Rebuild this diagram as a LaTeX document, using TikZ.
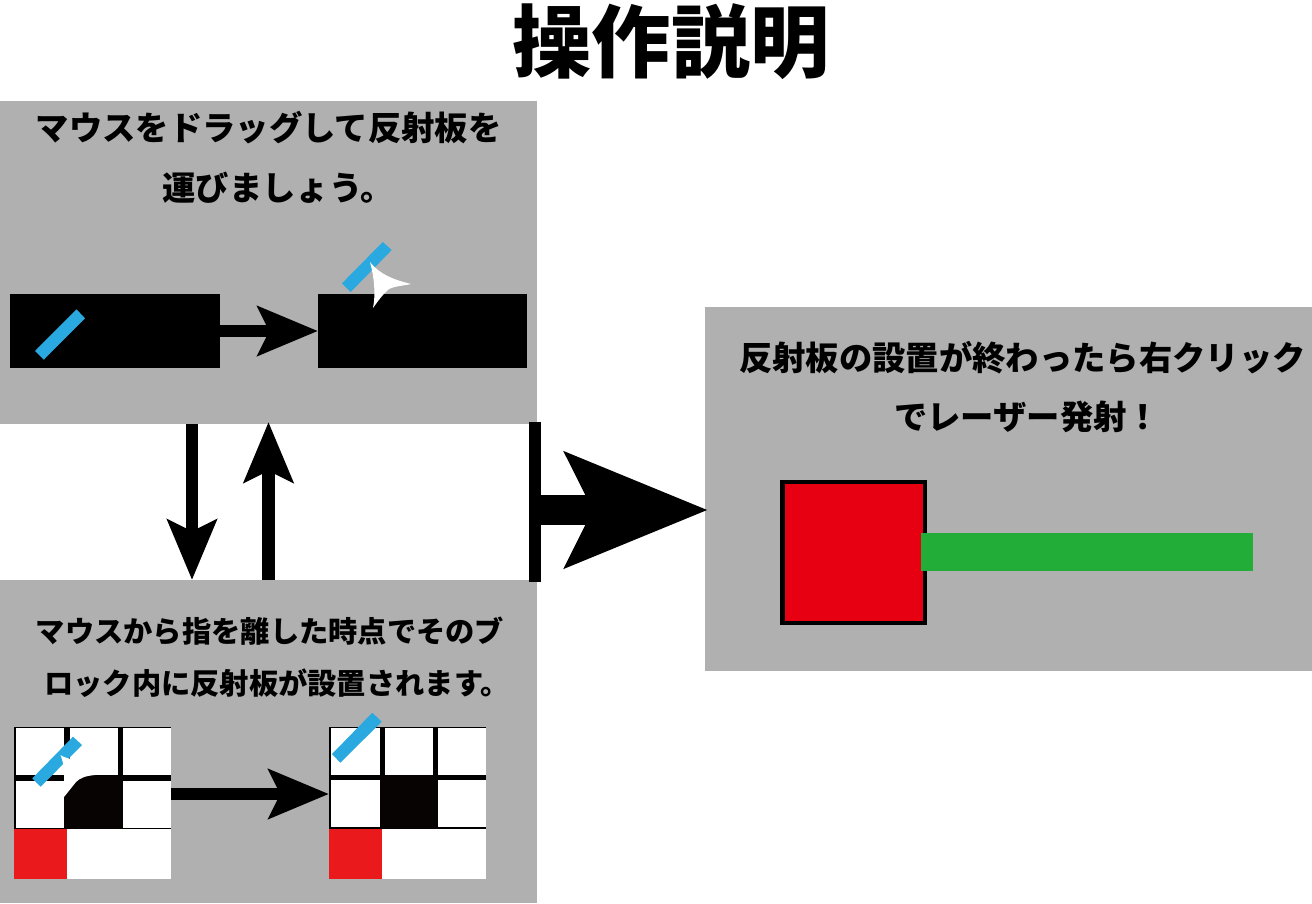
\documentclass[tikz,border=0pt]{standalone}
\usepackage{fontspec}
\usetikzlibrary{arrows.meta}
\newfontfamily\cjkblack{Noto Sans CJK JP Black}
\definecolor{panelgray}{HTML}{B0B0B0}
\definecolor{barblue}{HTML}{29A9E0}
\definecolor{boxred}{HTML}{E60012}
\definecolor{gridred}{HTML}{EA1A1C}
\definecolor{lasergreen}{HTML}{22AC38}
\definecolor{nearblack}{HTML}{060302}
\tikzset{
  sz/.style 2 args={minimum width=#1*0.75pt,minimum height=#2*0.75pt},
  rectbox/.style={anchor=north west,inner sep=0pt,outer sep=0pt,draw=none},
  panel/.style={rectbox,fill=panelgray},
  blackbox/.style={rectbox,fill=black},
  cellbox/.style={rectbox,fill=white,sz={48}{47}},
  label/.style={inner sep=0pt,outer sep=0pt,text=black},
  capline/.style={label,font=\cjkblack\fontsize{25pt}{25pt}\selectfont},
  capsmall/.style={label,font=\cjkblack\fontsize{21.95pt}{21.95pt}\selectfont},
  bar/.style={fill=barblue},
  ptr/.style={fill=white},
  arrowsmall/.style={line width=9.4pt,-{Stealth[length=45pt,width=36.5pt,inset=8.5pt]}},
  arrowlarge/.style={line width=22pt,-{Stealth[length=106pt,width=84pt,inset=19.5pt]}},
}
\begin{document}
\begin{tikzpicture}[x=0.75pt,y=-0.75pt]
\useasboundingbox (0,0) rectangle (1312,903);
% title
\node[label,font=\cjkblack\fontsize{59.4pt}{59.4pt}\selectfont] (title) at (671,42) {操作説明};
% panels
\node[panel,sz={537}{323}] (p1) at (0,101) {};
\node[panel,sz={537}{323}] (p2) at (0,580) {};
\node[panel,sz={607}{364}] (p3) at (705,307) {};
% panel 1
\node[capline] (t1a) at (268.5,128) {マウスをドラッグして反射板を};
\node[capline] (t1b) at (278,188) {運びましょう。};
\node[blackbox,sz={210}{74}] (b1) at (10,294) {};
\node[blackbox,sz={209}{74}] (b2) at (318,294) {};
\draw[arrowsmall] (b1.east) -- (b2.west);
\fill[bar] (76.5,309.3) -- (85,318.3) -- (43.8,359.7) -- (35,351) -- cycle;
\fill[bar] (382.8,242) -- (391.7,250) -- (350.7,292) -- (342,283.3) -- cycle;
\fill[ptr] (370,262) .. controls (380,275) and (395,280) .. (411,284) .. controls (402,286) and (395,286) .. (389,289) .. controls (383,294) and (378,301) .. (373,308) .. controls (376,293) and (374,277) .. (370,262) -- cycle;
% panel 2
\node[capsmall] (t2a) at (270,631.5) {マウスから指を離した時点でそのブ};
\node[capsmall] (t2b) at (277,683) {ロック内に反射板が設置されます。};
% left grid
\node[blackbox,sz={157}{102}] (g1) at (14,727) {};
\node[cellbox] (g1a) at (16,728) {};
\node[cellbox] (g1b) at (70,728) {};
\node[cellbox] (g1c) at (123,728) {};
\node[cellbox] (g1d) at (16,781) {};
\node[rectbox,fill=nearblack,sz={59}{53}] (g1e) at (64,776) {};
\node[cellbox] (g1f) at (123,781) {};
\node[rectbox,fill=white,sz={157}{50}] (g1g) at (14,829) {};
\node[rectbox,fill=gridred,sz={53}{50}] (g1h) at (14,829) {};
\fill[bar] (73,736.7) -- (82,745) -- (40.7,786.7) -- (32.3,778.3) -- cycle;
\fill[ptr] (60.5,755) .. controls (63,757) and (67,758) .. (71,759) -- (71,775) -- (95,775) .. controls (85,776) and (80,778) .. (76,782) -- (64,797) -- (64,772) .. controls (64,766) and (62.5,760) .. (60.5,755) -- cycle;
% right grid
\node[blackbox,sz={157}{102}] (g2) at (329,727) {};
\node[cellbox,sz={49}{47}] (g2a) at (331,728) {};
\node[cellbox] (g2b) at (385,728) {};
\node[cellbox] (g2c) at (438,728) {};
\node[cellbox,sz={49}{47}] (g2d) at (331,780) {};
\node[rectbox,fill=nearblack,sz={58}{54}] (g2e) at (380,775) {};
\node[cellbox] (g2f) at (438,780) {};
\node[rectbox,fill=white,sz={157}{50}] (g2g) at (329,829) {};
\node[rectbox,fill=gridred,sz={53}{50}] (g2h) at (329,829) {};
\fill[bar] (372.3,712.7) -- (381.7,721.7) -- (340.3,762.7) -- (332,754) -- cycle;
\draw[arrowsmall] (g1.east |- 0,794) -- (g2.west |- 0,794);
% vertical connectors
\coordinate (downx) at (192,0);
\coordinate (upx) at (268.5,0);
\draw[arrowsmall] (downx |- p1.south) -- (downx |- p2.north);
\draw[arrowsmall,shorten >=-1.5pt] (upx |- p2.north) -- (upx |- p1.south);
% big connector
\node[rectbox,fill=black,sz={12.5}{160}] (stem) at (528.5,422) {};
\coordinate (bigy) at (0,510);
\draw[arrowlarge,shorten >=-2.5pt] (stem.east |- bigy) -- (p3.west |- bigy);
% panel 3
\node[capline] (t3a) at (1022.5,358) {反射板の設置が終わったら右クリック};
\node[capline] (t3b) at (1027,416.5) {でレーザー発射！};
\node[rectbox,fill=black,sz={146.4}{145.5}] (frame) at (780.3,479.5) {};
\node[rectbox,fill=boxred,sz={138.2}{137.5}] (emit) at (784.5,483.5) {};
\node[rectbox,fill=lasergreen,sz={332}{37.4}] (beam) at (921.3,533.3) {};
\end{tikzpicture}
\end{document}
